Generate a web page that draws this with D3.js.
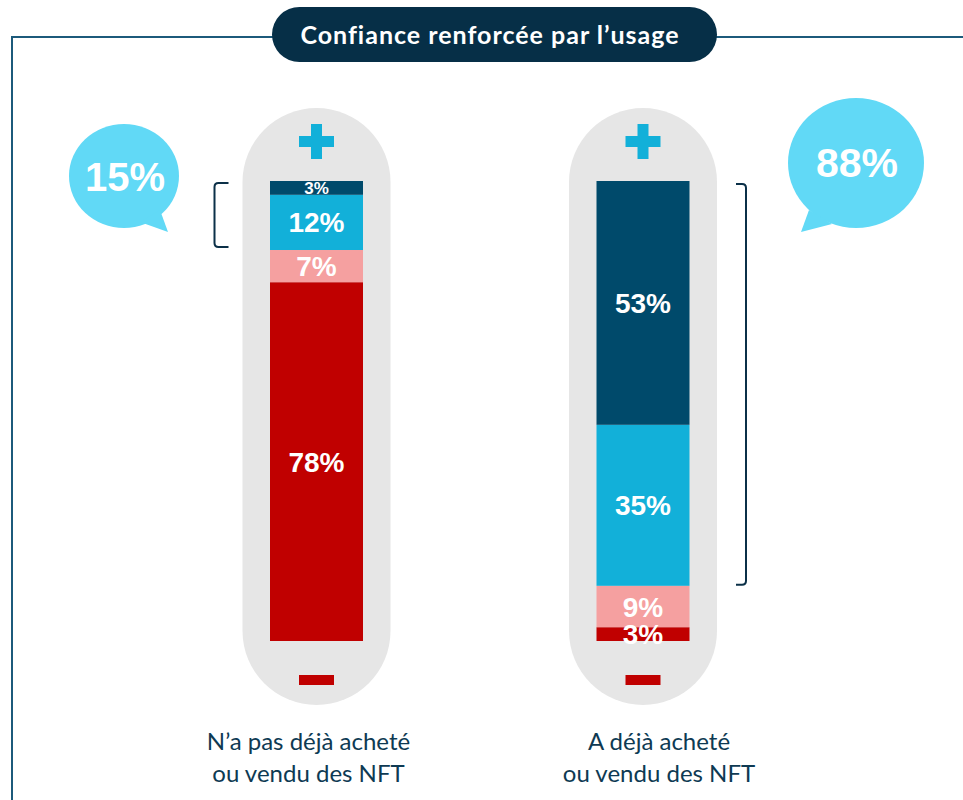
<!DOCTYPE html>
<html>
<head>
<meta charset="utf-8">
<title>Confiance renforcée par l'usage</title>
<style>
  body { margin: 0; background: #fff; }
  svg { display: block; }
  .seg-label { font-family: "Liberation Sans", Arial, sans-serif; font-weight: bold; fill: #fff; }
  .cat-label { font-family: Lato, "Open Sans", sans-serif; fill: #0e3a53; font-size: 24px; }
</style>
</head>
<body>
<svg width="963" height="800"></svg>
<script src="https://d3js.org/d3.v7.min.js"></script>
<script>
// data
var categories = ["N’a pas déjà acheté\nou vendu des NFT", "A déjà acheté\nou vendu des NFT"];
var keys = ["tresConfiance", "plutotConfiance", "plutotPasConfiance", "pasDuTout"];
var tresConfiance = [3, 53];
var plutotConfiance = [12, 35];
var plutotPasConfiance = [7, 9];
var pasDuTout = [78, 3];
var totalConfiance = ["15%", "88%"];
var title = "Confiance renforcée par l’usage";

var colors = {
  tresConfiance: "#004a6b",
  plutotConfiance: "#12b0d9",
  plutotPasConfiance: "#f5a0a0",
  pasDuTout: "#c00000"
};

var table = categories.map(function(c, i) {
  return {
    cat: c,
    tresConfiance: tresConfiance[i],
    plutotConfiance: plutotConfiance[i],
    plutotPasConfiance: plutotPasConfiance[i],
    pasDuTout: pasDuTout[i]
  };
});

var svg = d3.select("svg");

var x = d3.scalePoint().domain(categories).range([316.5, 643]);
var y = d3.scaleLinear().domain([0, 100]).range([641, 181]);
var barW = 93;

// frame + title
var frameColor = "#1c5a7b";
svg.append("path")
  .attr("d", "M12,800 V37 H300 M690,37 H963")
  .attr("fill", "none")
  .attr("stroke", frameColor)
  .attr("stroke-width", 2);

svg.append("rect")
  .attr("x", 272).attr("y", 7)
  .attr("width", 445).attr("height", 55)
  .attr("rx", 27.5)
  .attr("fill", "#062f47");

svg.append("text")
  .attr("x", 490).attr("y", 44)
  .attr("text-anchor", "middle")
  .attr("font-family", "Lato, 'Open Sans', sans-serif")
  .attr("font-weight", "bold")
  .attr("font-size", 25)
  .attr("letter-spacing", "1px")
  .style("font-variant-ligatures", "none")
  .attr("fill", "#fff")
  .text(title);

// capsules
var col = svg.selectAll(".col")
  .data(table)
  .enter().append("g")
  .attr("class", "col")
  .attr("transform", function(d) { return "translate(" + x(d.cat) + ",0)"; });

col.append("rect")
  .attr("x", -74).attr("y", 108)
  .attr("width", 148).attr("height", 597)
  .attr("rx", 74)
  .attr("fill", "#e6e6e6");

// plus
col.append("rect").attr("x", -17.5).attr("y", 136).attr("width", 35).attr("height", 11).attr("fill", "#12b0d9");
col.append("rect").attr("x", -5.5).attr("y", 124).attr("width", 11).attr("height", 35).attr("fill", "#12b0d9");
// minus
col.append("rect").attr("x", -17.5).attr("y", 675).attr("width", 35).attr("height", 10).attr("fill", "#c00000");

// stacked bars (top series first)
var stack = d3.stack().keys(keys.slice().reverse());
var layers = stack(table);

var segs = [];
layers.forEach(function(layer) {
  layer.forEach(function(p) {
    segs.push({ key: layer.key, cat: p.data.cat, y0: p[0], y1: p[1], value: p.data[layer.key] });
  });
});

var bars = svg.append("g");
bars.selectAll("rect")
  .data(segs)
  .enter().append("rect")
  .attr("x", function(d) { return x(d.cat) - barW / 2; })
  .attr("y", function(d) { return y(d.y1); })
  .attr("width", barW)
  .attr("height", function(d) { return y(d.y0) - y(d.y1); })
  .attr("fill", function(d) { return colors[d.key]; });

bars.selectAll("text")
  .data(segs)
  .enter().append("text")
  .attr("class", "seg-label")
  .attr("x", function(d) { return x(d.cat); })
  .attr("y", function(d) { return y((d.y0 + d.y1) / 2); })
  .attr("dy", "0.36em")
  .attr("text-anchor", "middle")
  .attr("font-size", function(d) { return (d.key == "tresConfiance" && d.value < 5) ? 17 : 28; })
  .text(function(d) { return d.value + "%"; });

// brackets
svg.append("path")
  .attr("d", "M" + (x(categories[0]) - 88) + "," + (y(100) + 2) + " h-10 q-4,0 -4,4 V" + (y(85) - 7) + " q0,4 4,4 h10")
  .attr("fill", "none").attr("stroke", "#0b3048").attr("stroke-width", 2);
svg.append("path")
  .attr("d", "M" + (x(categories[1]) + 93) + "," + (y(100) + 3) + " h6 q4,0 4,4 V" + (y(12) - 5) + " q0,4 -4,4 h-6")
  .attr("fill", "none").attr("stroke", "#0b3048").attr("stroke-width", 2);

// speech bubbles
var bubbleColor = "#61d9f6";
var bubbles = [
  { cx: 124, cy: 176, rx: 55, ry: 52, tail: "M140,222 L168,232 L160,210 Z", fs: 40, ty: 191 },
  { cx: 856, cy: 163, rx: 68, ry: 65, tail: "M809,210 L801,232 L832,224 Z", fs: 41, ty: 177 }
];
var bub = svg.selectAll(".bubble")
  .data(bubbles)
  .enter().append("g")
  .attr("class", "bubble");
bub.append("ellipse")
  .attr("cx", function(d) { return d.cx; })
  .attr("cy", function(d) { return d.cy; })
  .attr("rx", function(d) { return d.rx; })
  .attr("ry", function(d) { return d.ry; })
  .attr("fill", bubbleColor);
bub.append("path")
  .attr("d", function(d) { return d.tail; })
  .attr("fill", bubbleColor);
bub.append("text")
  .attr("class", "seg-label")
  .attr("x", function(d) { return d.cx + 1; })
  .attr("y", function(d) { return d.ty; })
  .attr("text-anchor", "middle")
  .attr("font-size", function(d) { return d.fs; })
  .text(function(d, i) { return totalConfiance[i]; });

// category labels
var labelShift = [-8, 16];
svg.selectAll(".cat-label")
  .data(categories)
  .enter().append("text")
  .attr("class", "cat-label")
  .attr("text-anchor", "middle")
  .each(function(d, i) {
    var t = d3.select(this);
    d.split("\n").forEach(function(line, j) {
      t.append("tspan")
        .attr("x", x(d) + labelShift[i])
        .attr("y", 750 + j * 31.5)
        .text(line);
    });
  });
</script>
</body>
</html>
